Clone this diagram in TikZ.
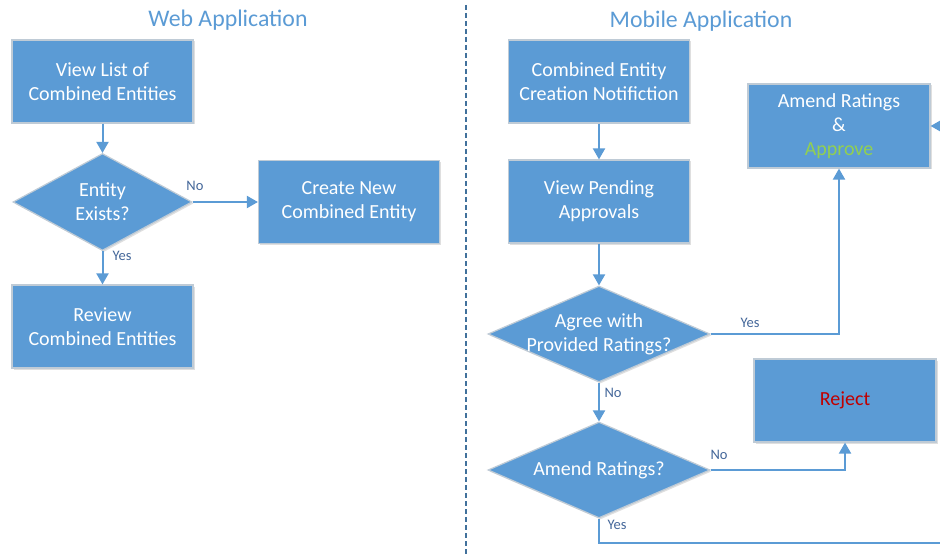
\documentclass[tikz,border=0pt]{standalone}
\usepackage{fontspec}
\setmainfont{Carlito}
\usetikzlibrary{shapes.geometric,arrows.meta,shadows}
\definecolor{boxblue}{HTML}{5B9BD5}
\definecolor{boxedge}{HTML}{BFCBD6}
\definecolor{lineblue}{HTML}{5B9BD5}
\definecolor{titleblue}{HTML}{5B9BD5}
\definecolor{lblcol}{HTML}{44679A}
\definecolor{dashcol}{HTML}{41719C}
\definecolor{okgreen}{HTML}{92D050}
\definecolor{nored}{HTML}{C00000}
\begin{document}
\begin{tikzpicture}[x=1pt,y=-1pt,
  procbox/.style={rectangle, fill=boxblue, draw=boxedge, line width=1.2pt,
    minimum width=181pt, minimum height=83pt, inner sep=2pt, align=center,
    text=white, font=\fontsize{20}{24}\selectfont,
    drop shadow={shadow xshift=1.5pt,shadow yshift=-1.5pt,opacity=0.25,fill=gray}},
  decbox/.style={diamond, fill=boxblue, draw=boxedge, line width=1.2pt,
    inner sep=0pt,
    drop shadow={shadow xshift=1.5pt,shadow yshift=-1.5pt,opacity=0.25,fill=gray}},
  dectext/.style={align=center, text=white, font=\fontsize{20}{24}\selectfont},
  arr/.style={draw=lineblue, line width=2pt, -{Triangle[length=11pt,width=12pt]}},
  lbl/.style={text=lblcol, font=\fontsize{14.5}{16}\selectfont, inner sep=0pt},
  ttl/.style={text=titleblue, font=\fontsize{23.8}{27}\selectfont, inner sep=0pt, anchor=base}
]
\useasboundingbox (0,0) rectangle (940,559);
\clip (0,0) rectangle (940,559);
\fill[white] (0,0) rectangle (940,559);

% titles
\node[ttl] (t1) at (228,27) {Web Application};
\node[ttl] (t2) at (701,28) {Mobile Application};

% divider
\coordinate (dv1) at (466,5);
\coordinate (dv2) at (466,555);
\draw[dashcol, line width=2pt, dash pattern=on 5pt off 3pt] (dv1) -- (dv2);

% web application
\node[procbox] (v1) at (102.5,81.5) {View List of\\Combined Entities};
\node[decbox, minimum width=179pt, minimum height=97pt,
  label={[dectext]center:{Entity\\Exists?}}] (d1) at (102.5,202) {};
\node[procbox] (c1) at (349,202) {Create New\\Combined Entity};
\node[procbox] (r1) at (102.5,326.5) {Review\\Combined Entities};

\draw[arr] (v1.south) -- (d1.north);
\draw[arr] (d1.east) -- (c1.west);
\draw[arr] (d1.south) -- (r1.north);
\node[lbl] (l1) at (195,186) {No};
\node[lbl] (l2) at (122,256) {Yes};

% mobile application
\node[procbox] (m1) at (599,81.5) {Combined Entity\\Creation Notifiction};
\node[procbox] (m2) at (599,201.5) {View Pending\\Approvals};
\node[decbox, minimum width=222pt, minimum height=96pt,
  label={[dectext]center:{Agree with\\Provided Ratings?}}] (d2) at (599,334) {};
\node[decbox, minimum width=222pt, minimum height=96pt,
  label={[dectext]center:{Amend Ratings?}}] (d3) at (599,470) {};
\node[procbox, minimum width=182pt, minimum height=84pt] (ap) at (839,126)
  {Amend Ratings\\\&\\\textcolor{okgreen}{Approve}};
\node[procbox, minimum width=182pt] (rj) at (845,400.5) {\textcolor{nored}{Reject}};

\coordinate (ex) at (962,543);
\coordinate (ey) at (962,126);

\draw[arr] (m1.south) -- (m2.north);
\draw[arr] (m2.south) -- (d2.north);
\draw[arr] (d2.east) -| (ap.south);
\draw[arr] (d2.south) -- (d3.north);
\draw[arr] (d3.east) -| (rj.south);
\draw[arr] (d3.south) |- (ex) -- (ey) -- (ap.east);

\node[lbl] (l3) at (750,323) {Yes};
\node[lbl] (l4) at (613,393) {No};
\node[lbl] (l5) at (719,455) {No};
\node[lbl] (l6) at (617,525) {Yes};
\end{tikzpicture}
\end{document}
